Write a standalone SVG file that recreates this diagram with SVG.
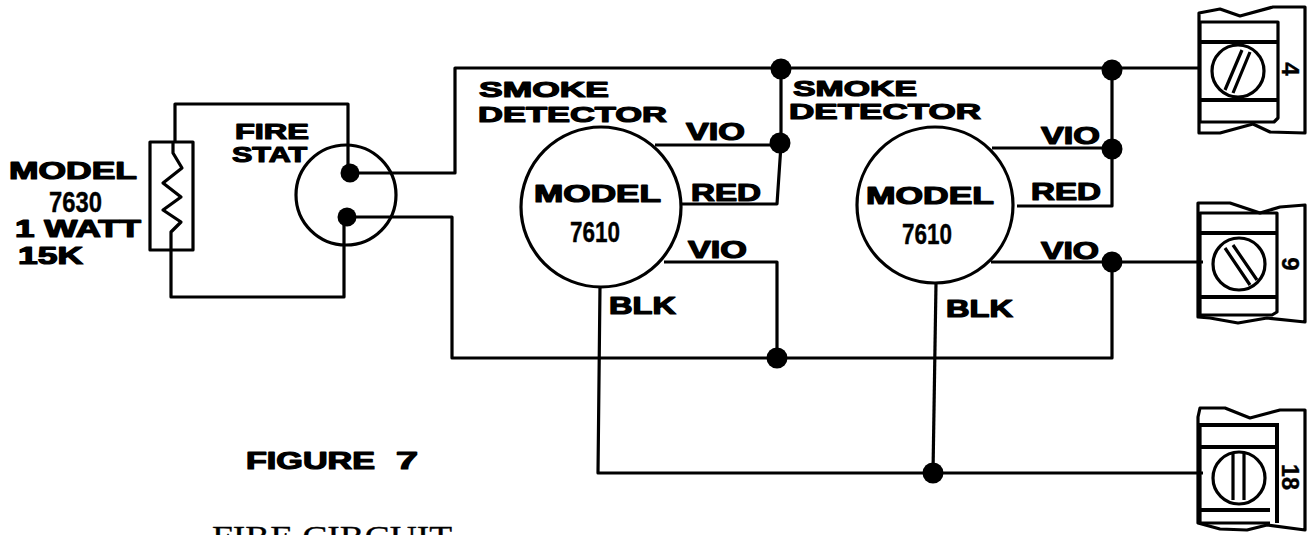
<svg xmlns="http://www.w3.org/2000/svg" width="1315" height="535" viewBox="0 0 1315 535">
<style>
text{font-family:"Liberation Sans",Arial,sans-serif;font-weight:700;fill:#000;font-size:23px;stroke:#000;stroke-width:1.2px;stroke-linejoin:round}
.c{font-size:30px;stroke-width:.4px}
.s{font-family:"Liberation Serif","Times New Roman",serif;font-weight:400;font-size:29px;stroke-width:.3px}
.n{font-size:24px;stroke-width:.4px}
.l{font-size:22px}
.w{fill:none;stroke:#000;stroke-width:3.2;stroke-linejoin:round}
.t{fill:none;stroke:#000;stroke-width:3.2;stroke-linejoin:round}
.b{fill:none;stroke:#000;stroke-width:4}
.d{fill:#000;stroke:none}
</style>
<rect width="1315" height="535" fill="#fff"/>
<g id="connectors">
<path class="w" d="M350 173H455V68H1200"/>
<path class="w" d="M347 217H452V358H1112V262"/>
<path class="w" d="M655 145H781V69M781 145L777 204H681"/>
<path class="w" d="M664 262H777V358"/>
<path class="w" d="M600 286L598 473H1203"/>
<path class="w" d="M936 283L933 473"/>
<path class="w" d="M992 148H1112M1112 70V206H1017"/>
<path class="w" d="M991 262H1203"/>
<path class="w" d="M175 142V104H348V173"/>
<path class="w" d="M171 249V297H344V217"/>
<circle class="d" cx="781" cy="69" r="10.5"/>
<circle class="d" cx="780" cy="143" r="10.5"/>
<circle class="d" cx="777" cy="358" r="10.5"/>
<circle class="d" cx="1112" cy="70" r="10.5"/>
<circle class="d" cx="1112" cy="149" r="10.5"/>
<circle class="d" cx="1112" cy="262" r="10.5"/>
<circle class="d" cx="933" cy="473" r="10.5"/>
</g>
<g id="resistor">
<rect class="w" x="150" y="142" width="43" height="108"/>
<path class="w" d="M173 142V153L182 168L163 183L181 197L163 210L181 222L171 232V250"/>
<text x="9" y="179" textLength="128" lengthAdjust="spacingAndGlyphs">MODEL</text>
<text class="c" x="49" y="212" textLength="53" lengthAdjust="spacingAndGlyphs">7630</text>
<text x="15" y="237" textLength="126" lengthAdjust="spacingAndGlyphs">1 WATT</text>
<text x="18" y="264" textLength="65" lengthAdjust="spacingAndGlyphs">15K</text>
</g>
<g id="fire-stat">
<circle class="w" cx="346" cy="195" r="50"/>
<circle class="d" cx="350" cy="173" r="9.5"/>
<circle class="d" cx="347" cy="217" r="9.5"/>
<text class="l" x="235" y="139" textLength="74" lengthAdjust="spacingAndGlyphs">FIRE</text>
<text class="l" x="232" y="162" textLength="75" lengthAdjust="spacingAndGlyphs">STAT</text>
</g>
<g id="detector-1">
<circle class="w" cx="601" cy="207" r="80"/>
<text class="l" x="479" y="97" textLength="130" lengthAdjust="spacingAndGlyphs">SMOKE</text>
<text class="l" x="478" y="122" textLength="189" lengthAdjust="spacingAndGlyphs">DETECTOR</text>
<text x="534" y="202" textLength="127" lengthAdjust="spacingAndGlyphs">MODEL</text>
<text class="c" x="570" y="242" textLength="50" lengthAdjust="spacingAndGlyphs">7610</text>
<text x="686" y="140" textLength="59" lengthAdjust="spacingAndGlyphs">VIO</text>
<text x="691" y="201" textLength="70" lengthAdjust="spacingAndGlyphs">RED</text>
<text x="688" y="258" textLength="59" lengthAdjust="spacingAndGlyphs">VIO</text>
<text x="609" y="314" textLength="67" lengthAdjust="spacingAndGlyphs">BLK</text>
</g>
<g id="detector-2">
<circle class="w" cx="935" cy="205" r="78"/>
<text class="l" x="793" y="96" textLength="124" lengthAdjust="spacingAndGlyphs">SMOKE</text>
<text class="l" x="789" y="119" textLength="192" lengthAdjust="spacingAndGlyphs">DETECTOR</text>
<text x="866" y="204" textLength="128" lengthAdjust="spacingAndGlyphs">MODEL</text>
<text class="c" x="902" y="244" textLength="50" lengthAdjust="spacingAndGlyphs">7610</text>
<text x="1041" y="144" textLength="59" lengthAdjust="spacingAndGlyphs">VIO</text>
<text x="1031" y="200" textLength="70" lengthAdjust="spacingAndGlyphs">RED</text>
<text x="1041" y="259" textLength="58" lengthAdjust="spacingAndGlyphs">VIO</text>
<text x="946" y="317" textLength="67" lengthAdjust="spacingAndGlyphs">BLK</text>
</g>
<g id="terminal-4">
<path class="t" d="M1199 13L1220 9L1240 16L1273 7H1305V133L1270 132L1253 124L1220 133H1199Z"/>
<path class="t" d="M1200 22H1278V118L1274 122H1200Z"/>
<path class="b" d="M1200 42H1278M1200 100H1278"/>
<circle class="t" cx="1238" cy="71" r="26"/>
<path class="w" d="M1225 90L1242 50M1233 93L1250 52"/>
<text class="n" transform="translate(1282 69) rotate(90)" text-anchor="middle">4</text>
</g>
<g id="terminal-9">
<path class="t" d="M1198 203H1230L1260 213L1280 207L1305 205V322L1267 318L1238 323L1210 318L1198 317Z"/>
<path class="t" d="M1200 213H1277V312L1272 315H1200Z"/>
<path class="b" d="M1200 233H1277M1200 297H1277"/>
<circle class="t" cx="1239" cy="264" r="26"/>
<path class="w" d="M1225 248L1250 285M1233 245L1257 280"/>
<text class="n" transform="translate(1282 264) rotate(90)" text-anchor="middle">9</text>
</g>
<g id="terminal-18">
<path class="t" d="M1198 417L1200 408H1225L1250 418L1280 410H1305V530L1267 525L1247 530L1220 529L1198 523Z"/>
<path class="b" d="M1198 425H1277V523M1200 447H1277M1200 510H1270"/>
<path class="t" d="M1200 425V523H1270"/>
<circle class="t" cx="1239" cy="478" r="26"/>
<path class="w" d="M1233 453V500M1244 453V500"/>
<text class="n" transform="translate(1282 477) rotate(90)" text-anchor="middle" textLength="26" lengthAdjust="spacingAndGlyphs">18</text>
</g>
<g id="caption">
<text x="246" y="469" textLength="129" lengthAdjust="spacingAndGlyphs">FIGURE</text>
<text x="396" y="469" textLength="22" lengthAdjust="spacingAndGlyphs">7</text>
<text class="s" x="212" y="546" textLength="240" lengthAdjust="spacingAndGlyphs">FIRE CIRCUIT</text>
</g>
</svg>
